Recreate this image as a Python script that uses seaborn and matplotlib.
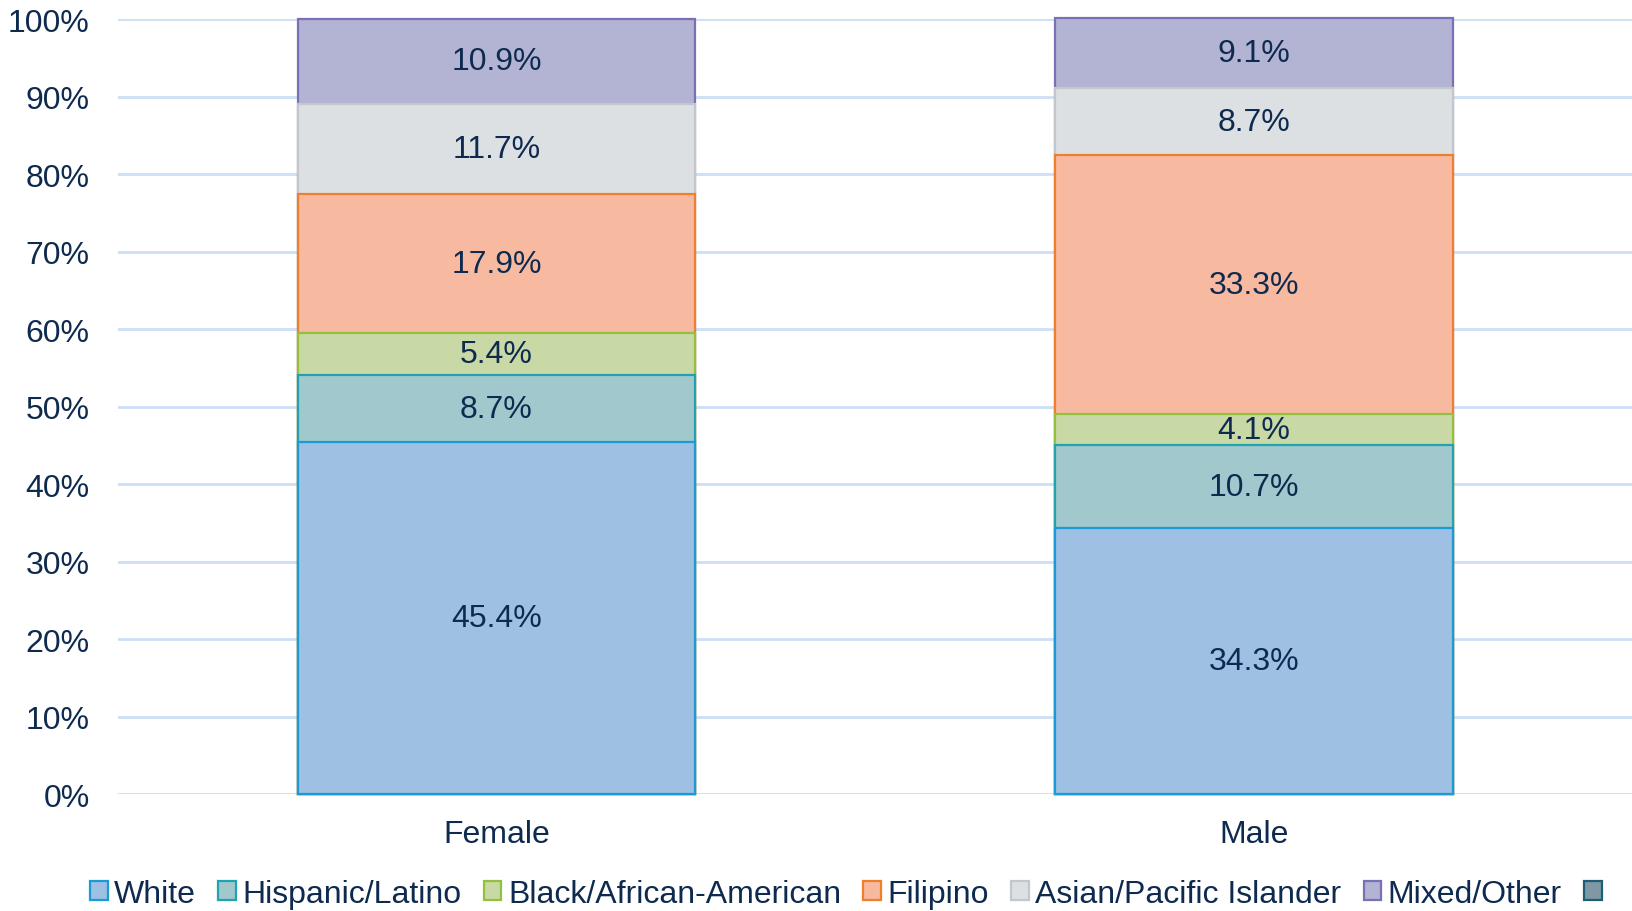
import matplotlib
matplotlib.use("Agg")
import matplotlib.pyplot as plt
from matplotlib.patches import Patch
import seaborn as sns
import pandas as pd
import numpy as np

genders = ["Female", "Male"]
groups = ["White", "Hispanic/Latino", "Black/African-American", "Filipino",
          "Asian/Pacific Islander", "Mixed/Other", ""]
white = [45.4, 34.3]
hispanic = [8.7, 10.7]
black = [5.4, 4.1]
filipino = [17.9, 33.3]
asian = [11.7, 8.7]
mixed = [10.9, 9.1]
blank = [0.0, 0.0]
yticks = [0, 10, 20, 30, 40, 50, 60, 70, 80, 90, 100]

fills = ["#9dc0e3", "#a1c9cd", "#c8d9a6", "#f7b9a0", "#dde0e3", "#b3b3d3", "#7f98a3"]
edges = ["#1a9ad6", "#1fa3ae", "#93c13f", "#f07f2b", "#c3c6ca", "#7a70b6", "#1e5f78"]
text_color = "#0e2a4f"
FS = 23

series = [white, hispanic, black, filipino, asian, mixed]
rows = []
for g, vals in zip(groups, series):
    for gen, v in zip(genders, vals):
        rows.append({"group": g, "gender": gen, "value": v})
df = pd.DataFrame(rows)
df["cum"] = df.groupby("gender")["value"].cumsum()

sns.set_theme(style="white")
plt.rcParams["font.family"] = ["Liberation Sans", "DejaVu Sans"]

fig = plt.figure(figsize=(16.33, 9.12), dpi=100)
ax = fig.add_axes([0.072, 0.128, 0.928, 0.85])

for i in range(len(series) - 1, -1, -1):
    sub = df[df["group"] == groups[i]]
    sns.barplot(data=sub, x="gender", y="cum", order=genders, color=fills[i],
                width=0.525, edgecolor=edges[i], linewidth=1.6, ax=ax,
                saturation=1, errorbar=None, zorder=3)

for p in ax.patches:
    p.set_clip_on(False)

for i, vals in enumerate(series):
    sub = df[df["group"] == groups[i]]
    for j, gen in enumerate(genders):
        r = sub[sub["gender"] == gen].iloc[0]
        ax.text(j, r["cum"] - r["value"] / 2, f"{r['value']:.1f}%", ha="center",
                va="center", fontsize=FS, color=text_color, zorder=5)

ax.set_ylim(0, 100)
ax.set_xlim(-0.5, 1.5)
ax.set_yticks(yticks)
ax.set_yticklabels([f"{t}%" for t in yticks], fontsize=FS, color=text_color)
ax.tick_params(axis="x", labelsize=FS, labelcolor=text_color, pad=18, length=0)
ax.tick_params(axis="y", pad=20, length=0)
ax.set_xlabel("")
ax.set_ylabel("")
ax.yaxis.grid(True, color="#cddff5", linewidth=2, zorder=0)
ax.set_axisbelow(True)
for s in ax.spines.values():
    s.set_visible(False)

handles = [Patch(facecolor=f, edgecolor=e, linewidth=1.6) for f, e in zip(fills, edges)]
fig.legend(handles, groups, loc="center", bbox_to_anchor=(0.52, 0.019),
           ncol=7, frameon=False, fontsize=FS, labelcolor=text_color,
           handlelength=0.55, handleheight=0.55, handletextpad=0.2,
           columnspacing=0.7, borderaxespad=0)

fig.savefig("out.png", dpi=100)
